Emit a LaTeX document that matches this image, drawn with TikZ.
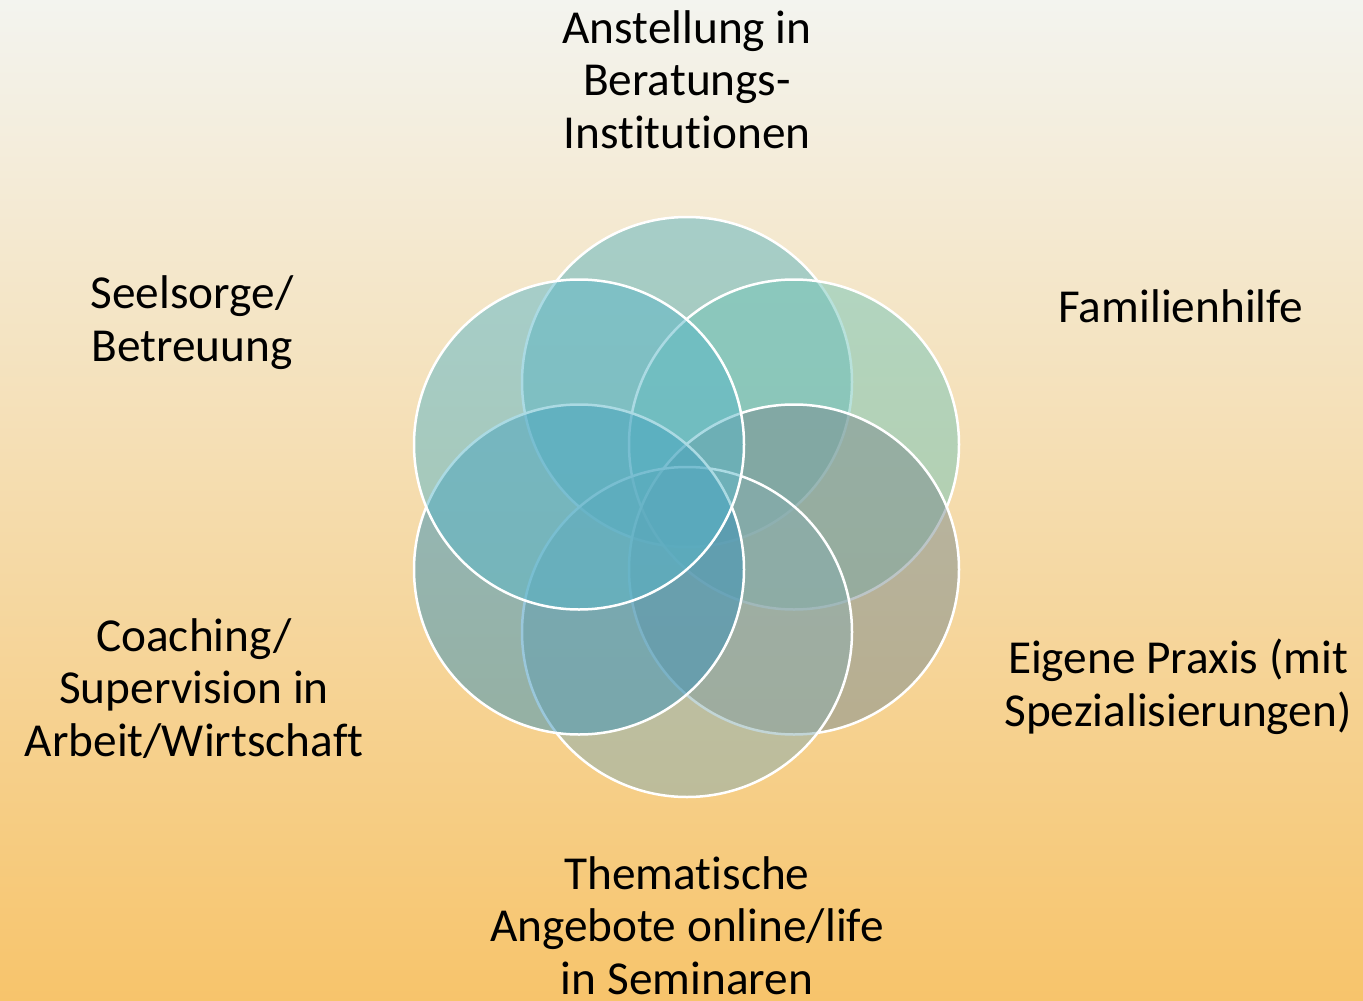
\documentclass[tikz,border=0pt]{standalone}
\usepackage{fontspec}
\setmainfont{Carlito}[Ligatures=NoCommon]
\definecolor{bgtop}{RGB}{243,244,239}
\definecolor{bgmid}{RGB}{246,220,171}
\definecolor{bgbot}{RGB}{247,196,107}
\definecolor{cA}{RGB}{89,179,191}
\definecolor{cB}{RGB}{114,197,184}
\definecolor{cC}{RGB}{122,140,144}
\definecolor{cD}{RGB}{134,172,174}
\definecolor{cE}{RGB}{54,145,184}
\definecolor{cF}{RGB}{89,182,200}
\tikzset{
  petal/.style={circle, minimum size=330pt, inner sep=0pt, draw=white, line width=2.5pt, fill opacity=0.5},
  label/.style={align=center, inner sep=0pt, anchor=base, text=black, font=\fontsize{47.3}{52.5}\selectfont}
}
\begin{document}
\begin{tikzpicture}[x=1pt,y=-1pt]
\shade[top color=bgtop, middle color=bgmid, bottom color=bgbot] (0,0) rectangle (1363,1001);
\useasboundingbox (0,0) rectangle (1363,1001);
\node[petal, fill=cA] (pA) at (687,382) {};
\node[petal, fill=cB] (pB) at (794,444.5) {};
\node[petal, fill=cC] (pC) at (794,569.5) {};
\node[petal, fill=cD] (pD) at (687,632) {};
\node[petal, fill=cE] (pE) at (579,569.5) {};
\node[petal, fill=cF] (pF) at (579,444.5) {};
\node[label] (tA) at (687,148) {Anstellung in\\Beratungs-\\Institutionen};
\node[label] (tB) at (1181,322) {Familienhilfe};
\node[label] (tC) at (1178,726) {Eigene Praxis (mit\\Spezialisierungen)};
\node[label] (tD) at (687,994) {Thematische\\Angebote online/life\\in Seminaren};
\node[label] (tE) at (194,756) {Coaching/\\Supervision in\\Arbeit/Wirtschaft};
\node[label] (tF) at (192,361) {Seelsorge/\\Betreuung};
\end{tikzpicture}
\end{document}
